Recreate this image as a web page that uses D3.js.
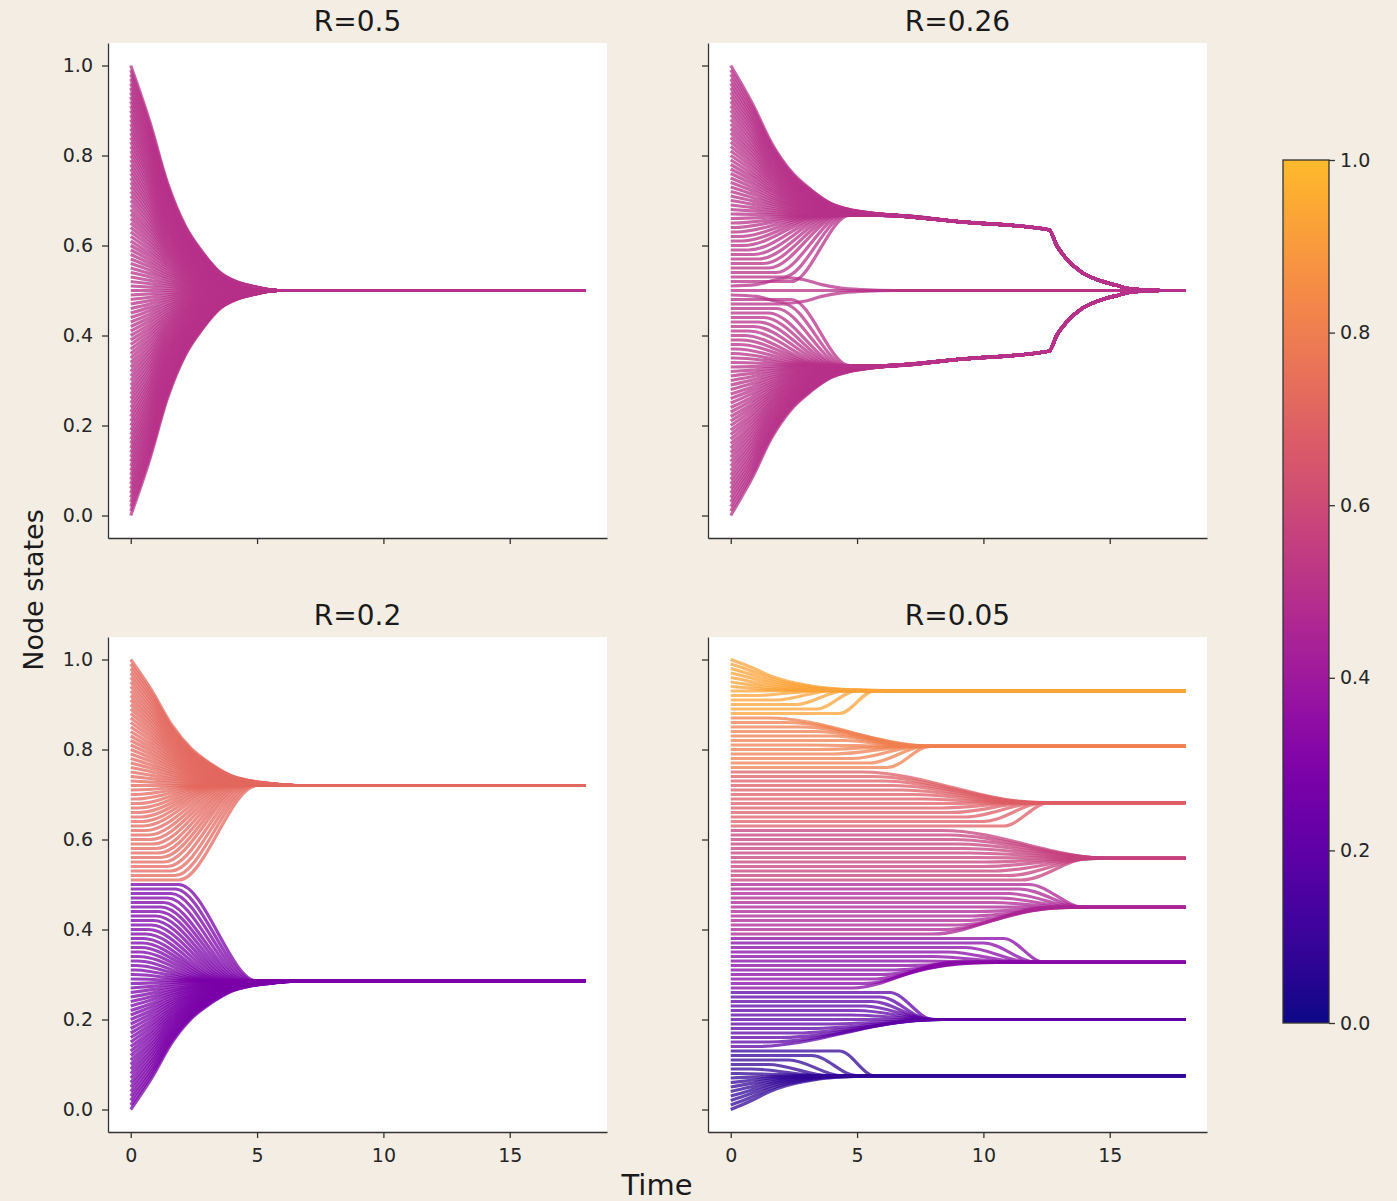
<!DOCTYPE html>
<html>
<head>
<meta charset="utf-8">
<script src="https://cdn.jsdelivr.net/npm/d3@7"></script>
<style>
  body { margin: 0; background: #f3ede3; }
  svg { display: block; font-family: "DejaVu Sans", sans-serif; }
</style>
</head>
<body>
<svg id="chart" width="1397" height="1201"></svg>
<script>
// ---- data ----
const titles = ["R=0.5", "R=0.26", "R=0.2", "R=0.05"]
const yTicks = [0, 0.2, 0.4, 0.6, 0.8, 1.0]
const xTicks = [0, 5, 10, 15]
const cbTicks = [0, 0.2, 0.4, 0.6, 0.8, 1.0]
const tEnd = 18

// initial node states, same in every run
const startStates = [
  0.00, 0.01, 0.02, 0.03, 0.04, 0.05, 0.06, 0.07, 0.08, 0.09,
  0.10, 0.11, 0.12, 0.13, 0.14, 0.15, 0.16, 0.17, 0.18, 0.19,
  0.20, 0.21, 0.22, 0.23, 0.24, 0.25, 0.26, 0.27, 0.28, 0.29,
  0.30, 0.31, 0.32, 0.33, 0.34, 0.35, 0.36, 0.37, 0.38, 0.39,
  0.40, 0.41, 0.42, 0.43, 0.44, 0.45, 0.46, 0.47, 0.48, 0.49,
  0.50, 0.51, 0.52, 0.53, 0.54, 0.55, 0.56, 0.57, 0.58, 0.59,
  0.60, 0.61, 0.62, 0.63, 0.64, 0.65, 0.66, 0.67, 0.68, 0.69,
  0.70, 0.71, 0.72, 0.73, 0.74, 0.75, 0.76, 0.77, 0.78, 0.79,
  0.80, 0.81, 0.82, 0.83, 0.84, 0.85, 0.86, 0.87, 0.88, 0.89,
  0.90, 0.91, 0.92, 0.93, 0.94, 0.95, 0.96, 0.97, 0.98, 0.99,
  1.00
]

// share of the gap still left, at fractions of the settling time (outer lines)
const decayAt   = [0, 0.13, 0.25, 0.37, 0.49, 0.61, 0.72, 0.84, 1]
const decayLeft = [1, 0.75, 0.48, 0.29, 0.17, 0.08, 0.04, 0.018, 0]

// R = 0.5 : one cluster
const r05Edges = []
const r05Finals = [0.5]
const r05Hold = 0
const r05Settle = 5.8

// R = 0.26 : three clusters, outer two drift together later
const r026Edges = [0.485, 0.515]
const r026PathT = [6, 9, 12.6, 12.9, 13.3, 13.9, 14.6, 15.3, 15.9, 17, 18]
const r026Upper = [0.667, 0.653, 0.635, 0.60, 0.57, 0.54, 0.522, 0.511, 0.503, 0.5, 0.5]
const r026Lower = [0.333, 0.347, 0.365, 0.40, 0.43, 0.46, 0.478, 0.489, 0.497, 0.5, 0.5]
const r026MidT    = [0, 1.0, 1.8, 2.3, 2.9, 3.6, 4.3, 5.2, 6.5, 18]
const r026MidUp   = [0.51, 0.513, 0.524, 0.528, 0.524, 0.513, 0.506, 0.502, 0.5, 0.5]
const r026MidDown = [0.49, 0.487, 0.476, 0.472, 0.476, 0.487, 0.494, 0.498, 0.5, 0.5]
const r026Hold = [
  0, 0, 0, 0, 0, 0, 0, 0, 0, 0,
  0, 0, 0, 0, 0, 0, 0, 0, 0, 0,
  0, 0, 0, 0, 0, 0, 0, 0, 0, 0,
  0, 0, 0, 0, 0.1, 0.1, 0.1, 0.2, 0.3, 0.4,
  0.5, 0.7, 0.9, 1.1, 1.3, 1.5, 1.8, 2.1, 2.4, 0,
  0, 0, 2.4, 2.1, 1.8, 1.5, 1.3, 1.1, 0.9, 0.7,
  0.5, 0.4, 0.3, 0.2, 0.1, 0.1, 0.1, 0, 0, 0,
  0, 0, 0, 0, 0, 0, 0, 0, 0, 0,
  0, 0, 0, 0, 0, 0, 0, 0, 0, 0,
  0, 0, 0, 0, 0, 0, 0, 0, 0, 0,
  0
]
const r026Settle = [
  6.5, 6.5, 6.5, 6.5, 6.5, 6.5, 6.5, 6.5, 6.5, 6.5,
  6.5, 6.5, 6.5, 6.5, 6.5, 6.5, 6.5, 6.5, 6.5, 6.5,
  6.5, 6.5, 6.5, 6.5, 6.5, 6.5, 6.5, 6.5, 6.5, 6.5,
  6.5, 6.5, 6.5, 6.5, 3.3, 3.4, 3.5, 3.6, 3.7, 3.8,
  3.9, 4.0, 4.1, 4.2, 4.3, 4.4, 4.5, 4.6, 4.7, 0,
  0, 0, 4.7, 4.6, 4.5, 4.4, 4.3, 4.2, 4.1, 4.0,
  3.9, 3.8, 3.7, 3.6, 3.5, 3.4, 3.3, 6.5, 6.5, 6.5,
  6.5, 6.5, 6.5, 6.5, 6.5, 6.5, 6.5, 6.5, 6.5, 6.5,
  6.5, 6.5, 6.5, 6.5, 6.5, 6.5, 6.5, 6.5, 6.5, 6.5,
  6.5, 6.5, 6.5, 6.5, 6.5, 6.5, 6.5, 6.5, 6.5, 6.5,
  6.5
]

// R = 0.2 : two clusters
const r02Edges = [0.505]
const r02Finals = [0.285, 0.72]
const r02Hold = [
  0, 0, 0, 0, 0, 0, 0, 0, 0, 0,
  0, 0, 0, 0, 0, 0, 0, 0, 0, 0,
  0, 0, 0, 0, 0, 0, 0, 0, 0, 0.1,
  0.1, 0.15, 0.2, 0.25, 0.3, 0.35, 0.4, 0.45, 0.5, 0.6,
  0.7, 0.8, 0.9, 1.0, 1.1, 1.2, 1.3, 1.45, 1.6, 1.75,
  1.9, 1.9, 1.75, 1.6, 1.45, 1.3, 1.2, 1.1, 1.0, 0.9,
  0.8, 0.7, 0.6, 0.5, 0.45, 0.4, 0.35, 0.3, 0.25, 0.2,
  0.15, 0.1, 0, 0, 0, 0, 0, 0, 0, 0,
  0, 0, 0, 0, 0, 0, 0, 0, 0, 0,
  0, 0, 0, 0, 0, 0, 0, 0, 0, 0,
  0
]
const r02Settle = [
  6.5, 6.5, 6.5, 6.5, 6.5, 6.5, 6.5, 6.5, 6.5, 6.5,
  6.5, 6.5, 6.5, 6.5, 6.5, 6.5, 6.5, 6.5, 6.5, 6.5,
  6.5, 6.5, 6.5, 6.5, 6.5, 6.5, 6.5, 6.5, 6.5, 2.9,
  3.0, 3.1, 3.2, 3.3, 3.4, 3.5, 3.6, 3.7, 3.8, 3.9,
  4.0, 4.1, 4.2, 4.3, 4.4, 4.5, 4.6, 4.7, 4.8, 4.9,
  5.0, 5.0, 4.9, 4.8, 4.7, 4.6, 4.5, 4.4, 4.3, 4.2,
  4.1, 4.0, 3.9, 3.8, 3.7, 3.6, 3.5, 3.4, 3.3, 3.2,
  3.1, 3.0, 6.5, 6.5, 6.5, 6.5, 6.5, 6.5, 6.5, 6.5,
  6.5, 6.5, 6.5, 6.5, 6.5, 6.5, 6.5, 6.5, 6.5, 6.5,
  6.5, 6.5, 6.5, 6.5, 6.5, 6.5, 6.5, 6.5, 6.5, 6.5,
  6.5
]

// R = 0.05 : eight clusters
const r005Edges = [0.135, 0.265, 0.385, 0.505, 0.625, 0.755, 0.875]
const r005Finals = [0.075, 0.2, 0.327, 0.449, 0.558, 0.682, 0.807, 0.931]
const r005Hold = [
  0, 0, 0, 0, 0, 0, 0, 0, 0.3, 0.8,
  1.5, 2.3, 3.2, 4.3, 1.0, 1.5, 2.0, 2.6, 3.2, 3.8,
  4.3, 4.7, 5.0, 5.3, 5.6, 5.9, 6.3, 4.8, 5.2, 5.6,
  6.0, 6.5, 7.0, 7.5, 8.0, 8.6, 9.3, 10.0, 10.8, 8.0,
  8.5, 9.0, 9.3, 9.6, 9.8, 10.0, 10.3, 10.6, 11.0, 11.4,
  11.8, 11.5, 11.0, 10.5, 10.0, 9.8, 9.6, 9.4, 9.2, 9.0,
  8.8, 8.6, 8.4, 10.8, 10.0, 9.3, 8.7, 8.2, 7.8, 7.5,
  7.2, 6.8, 6.4, 6.0, 5.6, 5.2, 6.2, 5.5, 4.8, 4.1,
  3.5, 3.0, 4.5, 4.0, 3.4, 2.8, 2.2, 1.5, 4.3, 3.4,
  2.6, 1.8, 1.0, 0.5, 0, 0, 0, 0, 0, 0,
  0
]
const r005Settle = [
  6.0, 5.8, 5.6, 5.4, 5.2, 5.0, 4.8, 4.6, 3.5, 3.6,
  3.9, 4.4, 5.0, 5.7, 8.0, 8.1, 8.2, 8.3, 8.4, 8.4,
  8.3, 8.2, 8.1, 8.0, 7.9, 7.9, 8.0, 8.8, 9.0, 9.3,
  9.6, 10.0, 10.5, 11.0, 11.3, 11.6, 11.9, 12.1, 12.4, 12.6,
  12.8, 13.0, 13.2, 13.4, 13.5, 13.6, 13.7, 13.8, 13.9, 14.0,
  14.0, 14.2, 14.3, 14.4, 14.5, 14.6, 14.7, 14.8, 14.9, 15.0,
  15.0, 15.0, 15.0, 12.6, 12.4, 12.2, 12.0, 11.8, 11.5, 11.3,
  11.6, 11.8, 12.0, 12.1, 12.2, 12.3, 7.9, 7.7, 7.5, 7.3,
  7.1, 7.0, 7.0, 7.2, 7.4, 7.6, 7.8, 8.0, 5.7, 5.0,
  4.5, 4.0, 3.6, 3.0, 4.0, 4.5, 5.0, 5.5, 5.8, 6.0,
  6.2
]

// ---- layout ----
const W = 1397, H = 1201
const PW = 499, PH = 495
const panelPos = [[108, 43], [708, 43], [108, 637], [708, 637]]

const svg = d3.select("#chart")
svg.append("rect").attr("width", W).attr("height", H).attr("fill", "#f3ede3")

const x = d3.scaleLinear().domain([-0.9, 18.85]).range([0, PW])
const y = d3.scaleLinear().domain([-0.05, 1.05]).range([PH, 0])

// plasma, cut off before the pale yellow end (as in the figure)
const cmap = v => d3.interpolatePlasma(0.85 * v)

const lineGen = d3.line()
  .x(d => x(d[0]))
  .y(d => y(d[1]))
  .curve(d3.curveMonotoneX)

const zip = (ts, vs) => ts.map((t, i) => [t, vs[i]])
const pick = (v, i) => Array.isArray(v) ? v[i] : v

// one node: flat, then over to its cluster, then follow the cluster
function trajectory(x0, target, hold, settle, tail) {
  const pts = [[0, x0]]
  if (hold > 0) {
    pts.push([hold, x0], [settle, target])
  } else {
    decayAt.forEach((s, k) => {
      if (k > 0) pts.push([s * settle, target + (x0 - target) * decayLeft[k]])
    })
  }
  tail.filter(p => p[0] > settle).forEach(p => pts.push(p))
  return pts
}

function staticRun(edges, finals, hold, settle) {
  return startStates.map((x0, i) => {
    const f = finals[d3.bisect(edges, x0)]
    return trajectory(x0, f, pick(hold, i), pick(settle, i), [[tEnd, f]])
  })
}

function run026() {
  const lower = zip(r026PathT, r026Lower)
  const upper = zip(r026PathT, r026Upper)
  return startStates.map((x0, i) => {
    const grp = d3.bisect(r026Edges, x0)
    if (grp === 1) {
      if (x0 > 0.505) return zip(r026MidT, r026MidUp)
      if (x0 < 0.495) return zip(r026MidT, r026MidDown)
      return [[0, x0], [tEnd, x0]]
    }
    const path = grp === 0 ? lower : upper
    return trajectory(x0, path[0][1], r026Hold[i], r026Settle[i], path)
  })
}

const runs = [
  staticRun(r05Edges, r05Finals, r05Hold, r05Settle),
  run026(),
  staticRun(r02Edges, r02Finals, r02Hold, r02Settle),
  staticRun(r005Edges, r005Finals, r005Hold, r005Settle)
]

function styleAxis(a) {
  a.select(".domain").attr("stroke", "#333").attr("stroke-width", 1.3)
  a.selectAll(".tick line").attr("stroke", "#333").attr("stroke-width", 1.3)
  a.selectAll(".tick text")
    .attr("fill", "#262626")
    .attr("font-size", 19)
    .attr("font-family", "DejaVu Sans, sans-serif")
}

runs.forEach((lines, p) => {
  const [px, py] = panelPos[p]
  const g = svg.append("g").attr("transform", `translate(${px},${py})`)
  g.append("rect").attr("width", PW).attr("height", PH).attr("fill", "white")

  g.append("g")
    .selectAll("path")
    .data(lines)
    .join("path")
      .attr("d", lineGen)
      .attr("fill", "none")
      .attr("stroke", d => cmap(d[d.length - 1][1]))
      .attr("stroke-width", 3.2)
      .attr("stroke-opacity", 0.75)
      .attr("stroke-linejoin", "round")

  const bottomRow = p >= 2
  const leftCol = p % 2 === 0

  const xa = g.append("g")
    .attr("transform", `translate(0,${PH})`)
    .call(d3.axisBottom(x).tickValues(xTicks).tickSize(6).tickSizeOuter(0).tickPadding(11)
      .tickFormat(bottomRow ? d3.format("d") : () => ""))
  styleAxis(xa)

  const ya = g.append("g")
    .call(d3.axisLeft(y).tickValues(yTicks).tickSize(6).tickSizeOuter(0).tickPadding(9)
      .tickFormat(leftCol ? d3.format(".1f") : () => ""))
  styleAxis(ya)

  g.append("text")
    .attr("x", PW / 2)
    .attr("y", -12)
    .attr("text-anchor", "middle")
    .attr("font-size", 28)
    .attr("fill", "#1a1a1a")
    .text(titles[p])
})

// axis labels
svg.append("text")
  .attr("transform", "translate(43,590) rotate(-90)")
  .attr("text-anchor", "middle")
  .attr("font-size", 27)
  .attr("fill", "#1a1a1a")
  .text("Node states")

svg.append("text")
  .attr("x", 657)
  .attr("y", 1195)
  .attr("text-anchor", "middle")
  .attr("font-size", 29)
  .attr("fill", "#1a1a1a")
  .text("Time")

// colour bar
const cbX = 1283, cbY = 160, cbW = 46, cbH = 863
const grad = svg.append("defs").append("linearGradient")
  .attr("id", "plasma")
  .attr("x1", 0).attr("y1", 1).attr("x2", 0).attr("y2", 0)
grad.selectAll("stop")
  .data(d3.range(0, 1.0001, 0.05))
  .join("stop")
    .attr("offset", d => d)
    .attr("stop-color", d => cmap(d))

svg.append("rect")
  .attr("x", cbX).attr("y", cbY)
  .attr("width", cbW).attr("height", cbH)
  .attr("fill", "url(#plasma)")
  .attr("stroke", "#333")
  .attr("stroke-width", 1.3)

const cb = d3.scaleLinear().domain([0, 1]).range([cbY + cbH, cbY])
const cba = svg.append("g")
  .attr("transform", `translate(${cbX + cbW},0)`)
  .call(d3.axisRight(cb).tickValues(cbTicks).tickSize(6).tickSizeOuter(0).tickPadding(5)
    .tickFormat(d3.format(".1f")))
cba.select(".domain").remove()
styleAxis(cba)
</script>
</body>
</html>
